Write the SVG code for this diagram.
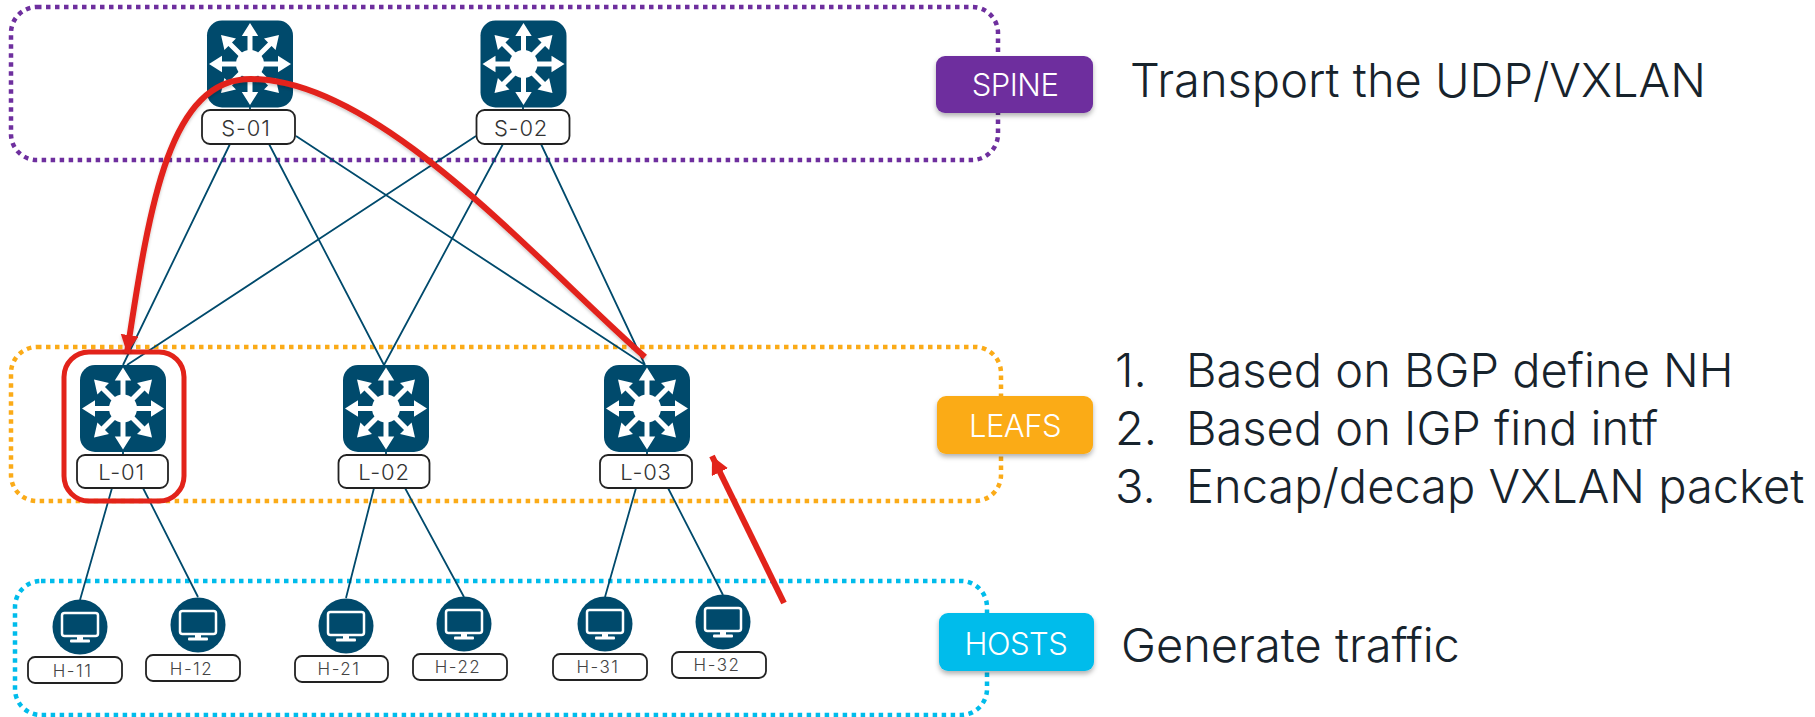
<svg xmlns="http://www.w3.org/2000/svg" width="1815" height="717" viewBox="0 0 1815 717">
<style>
text{font-family:"Inter","Liberation Sans",sans-serif;font-weight:300}
.zone{fill:none;stroke-width:4.5;stroke-dasharray:4.5 4.5}
.lnk{stroke:#004A6C;stroke-width:1.8;fill:none}
.lbl{fill:#fff;stroke:#222;stroke-width:1.8}
.sw{font-size:22px;letter-spacing:.8px;fill:#333;text-anchor:middle}
.hs{font-size:17px;letter-spacing:1.5px;fill:#444;text-anchor:middle}
.bd{font-size:31px;letter-spacing:-.5px;fill:#fff;text-anchor:middle}
.side{font-size:47px;fill:#17232c}
.red{fill:none;stroke:#E2231A;stroke-width:6}
</style>
<defs>
<g id="sw">
<rect x="-43" y="-43.5" width="86" height="87" rx="15" fill="#004A6C"/>
<circle r="14" fill="#fff"/>
<g id="arm"><path d="M-2.500 0V-28H-8.200L0 -41L8.200 -28H2.500V0Z" fill="#fff"/></g>
<use href="#arm" transform="rotate(45)"/>
<use href="#arm" transform="rotate(90)"/>
<use href="#arm" transform="rotate(135)"/>
<use href="#arm" transform="rotate(180)"/>
<use href="#arm" transform="rotate(225)"/>
<use href="#arm" transform="rotate(270)"/>
<use href="#arm" transform="rotate(315)"/>
</g>
<g id="pc">
<circle r="27.500" fill="#004A6C"/>
<rect x="-18" y="-14" width="36" height="23" rx="2.500" fill="none" stroke="#fff" stroke-width="2.500"/>
<path d="M-3 9.500H3V13H-3Z" fill="#fff"/>
<rect x="-10" y="12.500" width="20" height="3" rx="1" fill="#fff"/>
</g>
<marker id="ah" markerUnits="userSpaceOnUse" markerWidth="20" markerHeight="20" refX="18" refY="9" orient="auto"><path d="M0 0L18 9L0 18Z" fill="#E2231A"/></marker>
<filter id="sh" x="-10%" y="-10%" width="120%" height="130%"><feDropShadow dx="0" dy="3" stdDeviation="2.500" flood-color="#000" flood-opacity=".3"/></filter>
<filter id="ls" x="-10%" y="-10%" width="120%" height="120%"><feDropShadow dx="0" dy="2" stdDeviation="1.500" flood-color="#000" flood-opacity=".2"/></filter>
</defs>

<g id="zones">
<rect class="zone" x="11" y="7" width="987" height="153" rx="26" stroke="#6E2F9E"/>
<rect class="zone" x="11" y="347" width="990" height="154" rx="26" stroke="#FBAB18"/>
<rect class="zone" x="15" y="581" width="972" height="134" rx="26" stroke="#00BCEB"/>
</g>

<g id="connectors">
<path class="lnk" d="M230 144L123 365M269 144L384 365M296 136L645 365M476 136L127 365M503 144L384 365M541 144L645 365"/>
<path class="lnk" d="M250 107V110M523 107V110M123 452V455M386 452V455M647 452V455"/>
<path class="lnk" d="M112 488L80 600M143 488L198 597M374 488L346 598M405 488L464 597M636 488L605 597M668 488L723 595"/>
</g>

<g id="S-01"><use href="#sw" x="250" y="64"/><rect class="lbl" x="202" y="110" width="93" height="34" rx="8" stroke-width="1"/><text class="sw" x="246" y="136">S-01</text></g>
<g id="S-02"><use href="#sw" x="523.500" y="64"/><rect class="lbl" x="476.500" y="110" width="93" height="34" rx="8"/><text class="sw" x="521" y="136">S-02</text></g>
<g id="L-01"><use href="#sw" x="123" y="408.500"/><rect class="lbl" x="77" y="455" width="91" height="33" rx="8"/><text class="sw" x="121.500" y="480">L-01</text></g>
<g id="L-02"><use href="#sw" x="386" y="408.500"/><rect class="lbl" x="338.500" y="455" width="91" height="33" rx="8"/><text class="sw" x="384" y="480">L-02</text></g>
<g id="L-03"><use href="#sw" x="647" y="408.500"/><rect class="lbl" x="600" y="455" width="92" height="33" rx="8"/><text class="sw" x="646" y="480">L-03</text></g>

<g id="H-11"><use href="#pc" x="80" y="627"/><rect class="lbl" x="28" y="657" width="94" height="26" rx="7"/><text class="hs" x="72.500" y="677">H-11</text></g>
<g id="H-12"><use href="#pc" x="198" y="625"/><rect class="lbl" x="146" y="655" width="94" height="26" rx="7"/><text class="hs" x="191.500" y="675">H-12</text></g>
<g id="H-21"><use href="#pc" x="346" y="626"/><rect class="lbl" x="295" y="656" width="93" height="26" rx="7"/><text class="hs" x="339" y="675">H-21</text></g>
<g id="H-22"><use href="#pc" x="464" y="624"/><rect class="lbl" x="413" y="654" width="94" height="26" rx="7"/><text class="hs" x="458" y="673">H-22</text></g>
<g id="H-31"><use href="#pc" x="605" y="624"/><rect class="lbl" x="553" y="654" width="94" height="26" rx="7"/><text class="hs" x="598" y="673">H-31</text></g>
<g id="H-32"><use href="#pc" x="723" y="622"/><rect class="lbl" x="672" y="652" width="94" height="26" rx="7"/><text class="hs" x="717" y="671">H-32</text></g>

<g id="highlight">
<rect x="64" y="352" width="120" height="149" rx="25" fill="none" stroke="#E2231A" stroke-width="5"/>
<path class="red" filter="url(#ls)" d="M645 357C540 265 380 79 251 79C170 79 150 200 127 353" marker-end="url(#ah)"/>
<path class="red" d="M784 603L712 456" marker-end="url(#ah)"/>
</g>

<g id="SPINE-tag"><rect x="936" y="56" width="157" height="57" rx="9" fill="#6E2F9E" filter="url(#sh)"/><text class="bd" x="1015" y="96">SPINE</text></g>
<g id="LEAFS-tag"><rect x="937" y="396" width="156" height="58" rx="9" fill="#FBAB18" filter="url(#sh)"/><text class="bd" x="1015" y="437">LEAFS</text></g>
<g id="HOSTS-tag"><rect x="939" y="613" width="155" height="58" rx="9" fill="#00BCEB" filter="url(#sh)"/><text class="bd" x="1016" y="655">HOSTS</text></g>

<g id="notes">
<text class="side" x="1130" y="97">Transport the UDP/VXLAN</text>
<text class="side" x="1115" y="387">1.</text><text class="side" x="1186" y="387">Based on BGP define NH</text>
<text class="side" x="1115" y="445">2.</text><text class="side" x="1186" y="445">Based on IGP find intf</text>
<text class="side" x="1115" y="503">3.</text><text class="side" x="1186" y="503">Encap/decap VXLAN packet</text>
<text class="side" x="1121" y="662">Generate traffic</text>
</g>
</svg>
